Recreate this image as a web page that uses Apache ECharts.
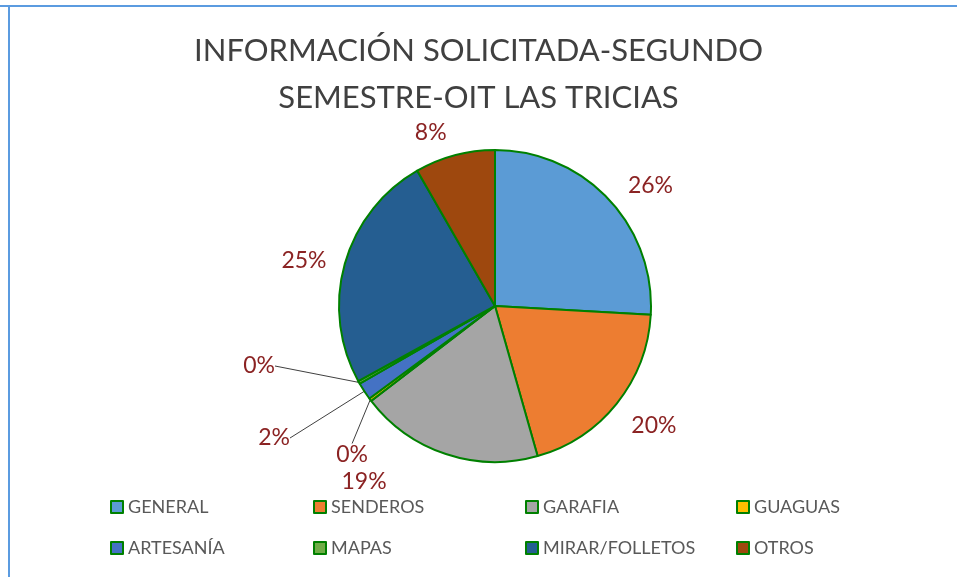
<!DOCTYPE html>
<html><head><meta charset="utf-8">
<script src="https://cdn.jsdelivr.net/npm/echarts@6/dist/echarts.min.js"></script>
<style>html,body{margin:0;padding:0;background:#fff}#c{width:957px;height:577px}</style>
</head><body><div id="c"></div>
<script>
const titleText = 'INFORMACIÓN SOLICITADA-SEGUNDO\nSEMESTRE-OIT LAS TRICIAS';
const categories = ['GENERAL','SENDEROS','GARAFIA','GUAGUAS','ARTESANÍA','MAPAS','MIRAR/FOLLETOS','OTROS'];
const values = [25.9, 19.7, 19.0, 0.3, 1.8, 0.3, 24.7, 8.3];
const colors = ['#5B9BD5','#ED7D31','#A5A5A5','#FFC000','#4472C4','#70AD47','#255E91','#9E480E'];

// layout constants (not data)
const legendCols = [110, 313, 525, 736];
const legendRows = [498, 539];
// explicit label anchors for the tiny slices (right edge x, middle y) and small nudges for others
const smallLabelPos = {3:[368,455], 4:[290,438], 5:[275,366]};
const labelNudge = {1:[-6,10], 2:[-48,9], 6:[6,2], 7:[2,-3]};

const chart = echarts.init(document.getElementById('c'), null, {renderer:'canvas'});
const total = values.reduce((a,b)=>a+b,0);
const FONT = 'Lato';
const legends = categories.map((n,i)=>({
  data:[n], left: legendCols[i%4], top: legendRows[Math.floor(i/4)], padding:0,
  orient:'horizontal', itemWidth:12, itemHeight:12, itemGap:0,
  icon:'rect', selectedMode:false,
  itemStyle:{borderColor:'#008000', borderWidth:2},
  textStyle:{fontFamily:FONT, fontSize:18, color:'#595959'}
}));
chart.setOption({
  animation:false,
  backgroundColor:'#fff',
  title:{text:titleText, left:'center', top:22,
    textStyle:{fontFamily:FONT, fontSize:31, fontWeight:'normal', color:'#404040', lineHeight:47}},
  legend: legends,
  graphic:[
    {type:'line', shape:{x1:0,y1:6,x2:957,y2:6}, style:{stroke:'#5B9BE0', lineWidth:2}},
    {type:'line', shape:{x1:9,y1:6,x2:9,y2:577}, style:{stroke:'#5B9BE0', lineWidth:2}}
  ],
  series:[{
    type:'pie', center:[495,306], radius:156, startAngle:90, clockwise:true,
    avoidLabelOverlap:false, minAngle:0,
    itemStyle:{borderColor:'#008000', borderWidth:2},
    label:{show:true, position:'outside', formatter:p=>Math.round(p.value/total*100)+'%',
      fontFamily:FONT, fontSize:23, color:'#8B2323'},
    labelLine:{show:false, length:20, length2:0, lineStyle:{color:'#404040', width:1}},
    labelLayout: function(p){
      const i = p.dataIndex;
      if (smallLabelPos[i]) {
        return {x: smallLabelPos[i][0], y: smallLabelPos[i][1], align:'right', verticalAlign:'middle'};
      }
      if (labelNudge[i]) return {dx: labelNudge[i][0], dy: labelNudge[i][1]};
      return {};
    },
    data: categories.map((n,i)=>({name:n, value:values[i], itemStyle:{color:colors[i]},
      labelLine:{show: values[i] < 3}}))
  }]
});
</script></body></html>
